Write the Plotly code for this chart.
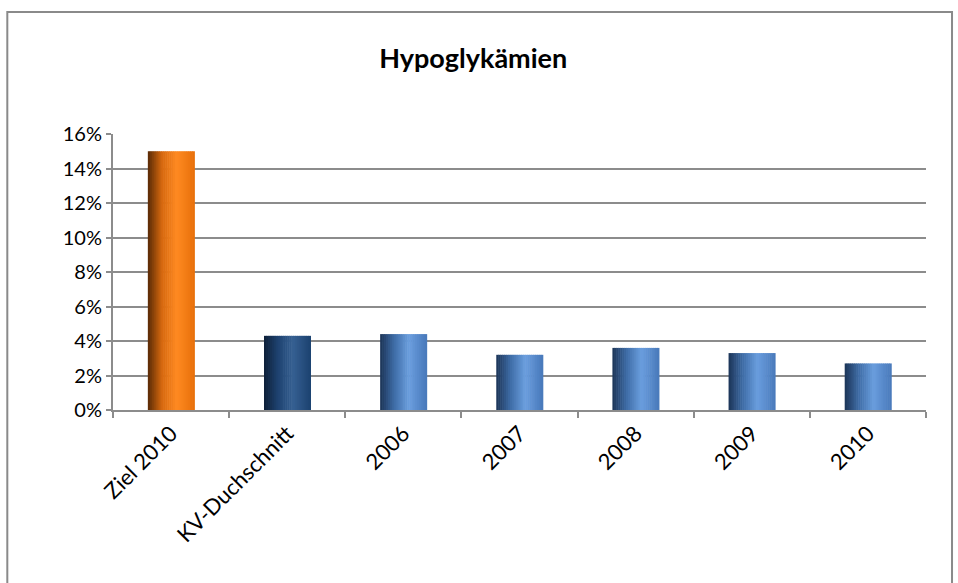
import plotly.graph_objects as go

categories = ["Ziel 2010", "KV-Duchschnitt", "2006", "2007", "2008", "2009", "2010"]
values = [0.15, 0.043, 0.044, 0.032, 0.036, 0.033, 0.027]
tick_vals = [0, 0.02, 0.04, 0.06, 0.08, 0.10, 0.12, 0.14, 0.16]
tick_text = ["0%", "2%", "4%", "6%", "8%", "10%", "12%", "14%", "16%"]
title_text = "Hypoglykämien"

# gradient stops (position, rgb) per bar style
orange = [(0.0, (88, 42, 6)), (0.3, (214, 104, 14)), (0.62, (255, 138, 34)), (1.0, (232, 112, 10))]
navy = [(0.0, (14, 32, 56)), (0.3, (30, 66, 112)), (0.62, (54, 96, 146)), (1.0, (28, 66, 112))]
blue = [(0.0, (28, 52, 86)), (0.3, (62, 108, 166)), (0.62, (106, 158, 222)), (1.0, (72, 121, 186))]
styles = [orange, navy] + [blue] * 5


def interp(stops, t):
    for (t0, c0), (t1, c1) in zip(stops[:-1], stops[1:]):
        if t <= t1:
            f = (t - t0) / (t1 - t0) if t1 > t0 else 0
            c = [round(a + (b - a) * f) for a, b in zip(c0, c1)]
            return "rgb(%d,%d,%d)" % tuple(c)
    c = stops[-1][1]
    return "rgb(%d,%d,%d)" % c


bar_w = 0.4
n_strips = 24
sw = bar_w / n_strips

fig = go.Figure()
for i in range(n_strips):
    t = (i + 0.5) / n_strips
    fig.add_trace(go.Bar(
        x=categories, y=values,
        width=sw * 1.3, offset=-bar_w / 2 + i * sw,
        marker=dict(color=[interp(s, t) for s in styles], line=dict(width=0)),
        showlegend=False, hoverinfo="skip",
    ))

font_family = "Lato, 'Open Sans', sans-serif"
grid_c = "#8c8c8c"

fig.update_layout(
    barmode="overlay",
    width=958, height=583,
    margin=dict(l=113, r=32, t=134, b=173),
    paper_bgcolor="white", plot_bgcolor="white",
    title=dict(text="<b>" + title_text + "</b>", x=0.494, xanchor="center",
               y=0.9, yanchor="middle", yref="container",
               font=dict(family=font_family, size=27, color="black")),
    font=dict(family=font_family, size=20, color="black"),
    xaxis=dict(type="category", tickangle=-45, tickson="boundaries",
               ticks="outside", ticklen=6, tickcolor=grid_c, tickwidth=2,
               showline=True, linecolor=grid_c, linewidth=2,
               showgrid=False, tickfont=dict(size=22)),
    yaxis=dict(range=[0, 0.16], tickvals=tick_vals, ticktext=tick_text,
               ticks="outside", ticklen=5, tickcolor=grid_c, tickwidth=2,
               showline=True, linecolor=grid_c, linewidth=2,
               showgrid=True, gridcolor=grid_c, gridwidth=2,
               zeroline=False, tickfont=dict(size=20)),
    shapes=[dict(type="rect", xref="paper", yref="paper",
                 x0=-0.130, x1=1.032, y0=-0.66, y1=1.442,
                 line=dict(color="#8a8a8a", width=2), fillcolor="rgba(0,0,0,0)",
                 layer="below")],
)

fig.write_html("out.html", config={"displayModeBar": False},
               post_script="document.body.style.margin='0';")
